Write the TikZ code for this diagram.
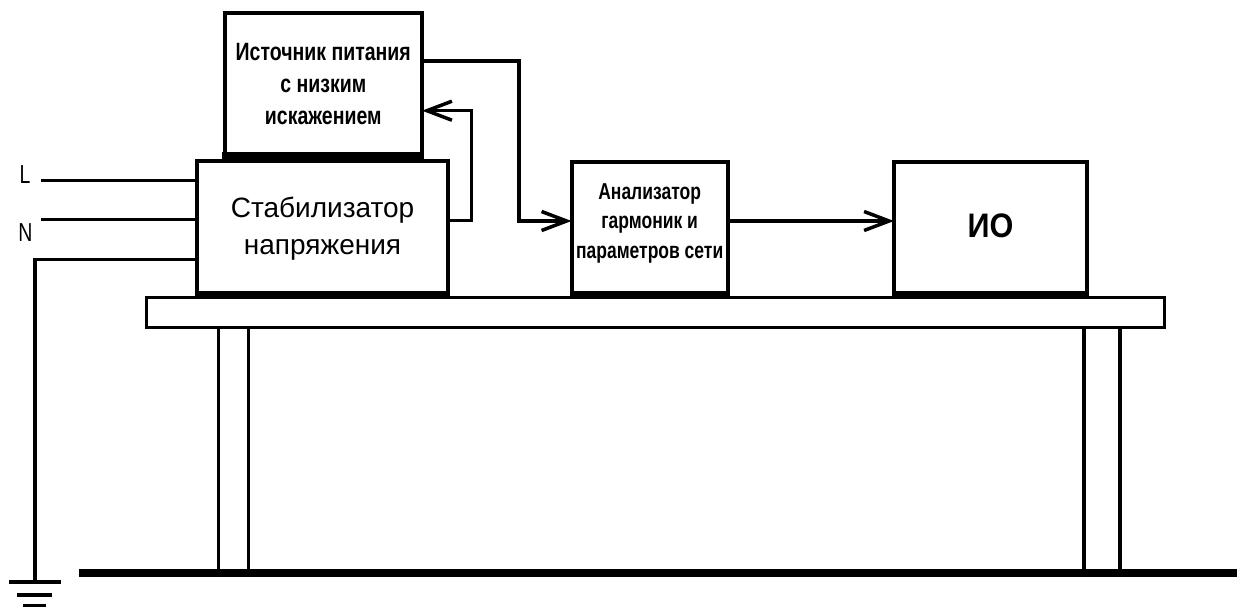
\documentclass[tikz,border=0pt]{standalone}
\usepackage{fontspec}
\setmainfont{Liberation Sans}
\newfontfamily\narrowfont[FakeStretch=0.78]{Liberation Sans}
\newfontfamily\anfont[FakeStretch=0.76]{Liberation Sans}
\newfontfamily\iofont[FakeStretch=0.9]{Liberation Sans}
\newfontfamily\lnfont[FakeStretch=0.75]{Liberation Sans}
\usetikzlibrary{arrows.meta}
\begin{document}
\begin{tikzpicture}[x=1pt,y=-1pt,
  box/.style={draw, line width=4pt, inner sep=0pt, outer sep=0pt, anchor=north west},
  txt/.style={inner sep=0pt, align=center},
  band/.style={fill=black},
  wire/.style={line width=3.3pt},
  tbl/.style={line width=3.5pt},
  arr/.style={wire, -{Straight Barb[length=25pt,width=19pt,line width=3.5pt]}},
  lbl/.style={inner sep=0pt, font=\lnfont\fontsize{26}{30}\selectfont}]
\useasboundingbox (0,0) rectangle (1237,607);
% boxes
\node[box, minimum width=197.5pt, minimum height=141.5pt] (PS) at (224.5,13.5) {};
\node[box, minimum width=251pt, minimum height=135pt] (ST) at (197,161) {};
\node[box, minimum width=156.3pt, minimum height=133pt] (AN) at (571.5,162) {};
\node[box, minimum width=193pt, minimum height=133pt] (IO) at (894,162) {};
% texts
\node[txt, font=\narrowfont\bfseries\fontsize{25}{32}\selectfont] (PSt) at (PS.center)
  {Источник питания\\с низким\\искажением};
\node[txt, font=\fontsize{28}{37}\selectfont] (STt) at (ST.center)
  {Стабилизатор\\напряжения};
\node[txt, font=\anfont\bfseries\fontsize{23}{29.5}\selectfont, yshift=5.5pt] (ANt) at (AN.center)
  {Анализатор\\гармоник и\\параметров сети};
\node[txt, font=\iofont\bfseries\fontsize{34}{40}\selectfont, yshift=3pt] (IOt) at (IO.center)
  {ИО};
% thick bottom bands of boxes
\fill[band] (222,152) rectangle (424,160);
\fill[band] (195,291) rectangle (450,299);
\fill[band] (569.5,291) rectangle (729.8,299);
\fill[band] (892,291) rectangle (1089,299);
% table
\node[draw, tbl, inner sep=0pt, outer sep=0pt, anchor=north west,
      minimum width=1018.2pt, minimum height=30pt] (TB) at (146.5,297.5) {};
\coordinate (FL) at (79.3,573.3);
\coordinate (FR) at (1237,573.3);
\draw[line width=8pt] (FL) -- (FR);
\foreach \x in {218.3,248.7,1084,1120}{
  \draw[tbl] (TB.south west -| \x,0) -- (FL -| \x,0) ;
}
% input wires
\node[lbl, anchor=base] (L) at (25,183) {L};
\node[lbl, anchor=base] (N) at (25.5,241) {N};
\coordinate (Lw) at (41,180.3);
\coordinate (Nw) at (41,219.8);
\draw[wire] (Lw) -- (Lw -| ST.west);
\draw[wire] (Nw) -- (Nw -| ST.west);
% ground
\coordinate (G) at (35,582);
\draw[wire] (ST.west |- 0,259.3) -- (G |- 0,259.3) -- (G);
\draw[line width=4pt] (9,582) -- (60.7,582);
\draw[line width=4pt] (17.3,595) -- (52.3,595);
\draw[line width=4pt] (23.3,606) -- (46,606);
% connectors
\draw[arr] (PS.east |- 0,61) -- (519,61) -- (519,221) -- (AN.west |- 0,221);
\draw[arr] (ST.east |- 0,220.5) -- (471.7,220.5) -- (471.7,110.7) -- (PS.east |- 0,110.7);
\draw[arr] (AN.east |- 0,221) -- (IO.west |- 0,221);
\end{tikzpicture}
\end{document}
